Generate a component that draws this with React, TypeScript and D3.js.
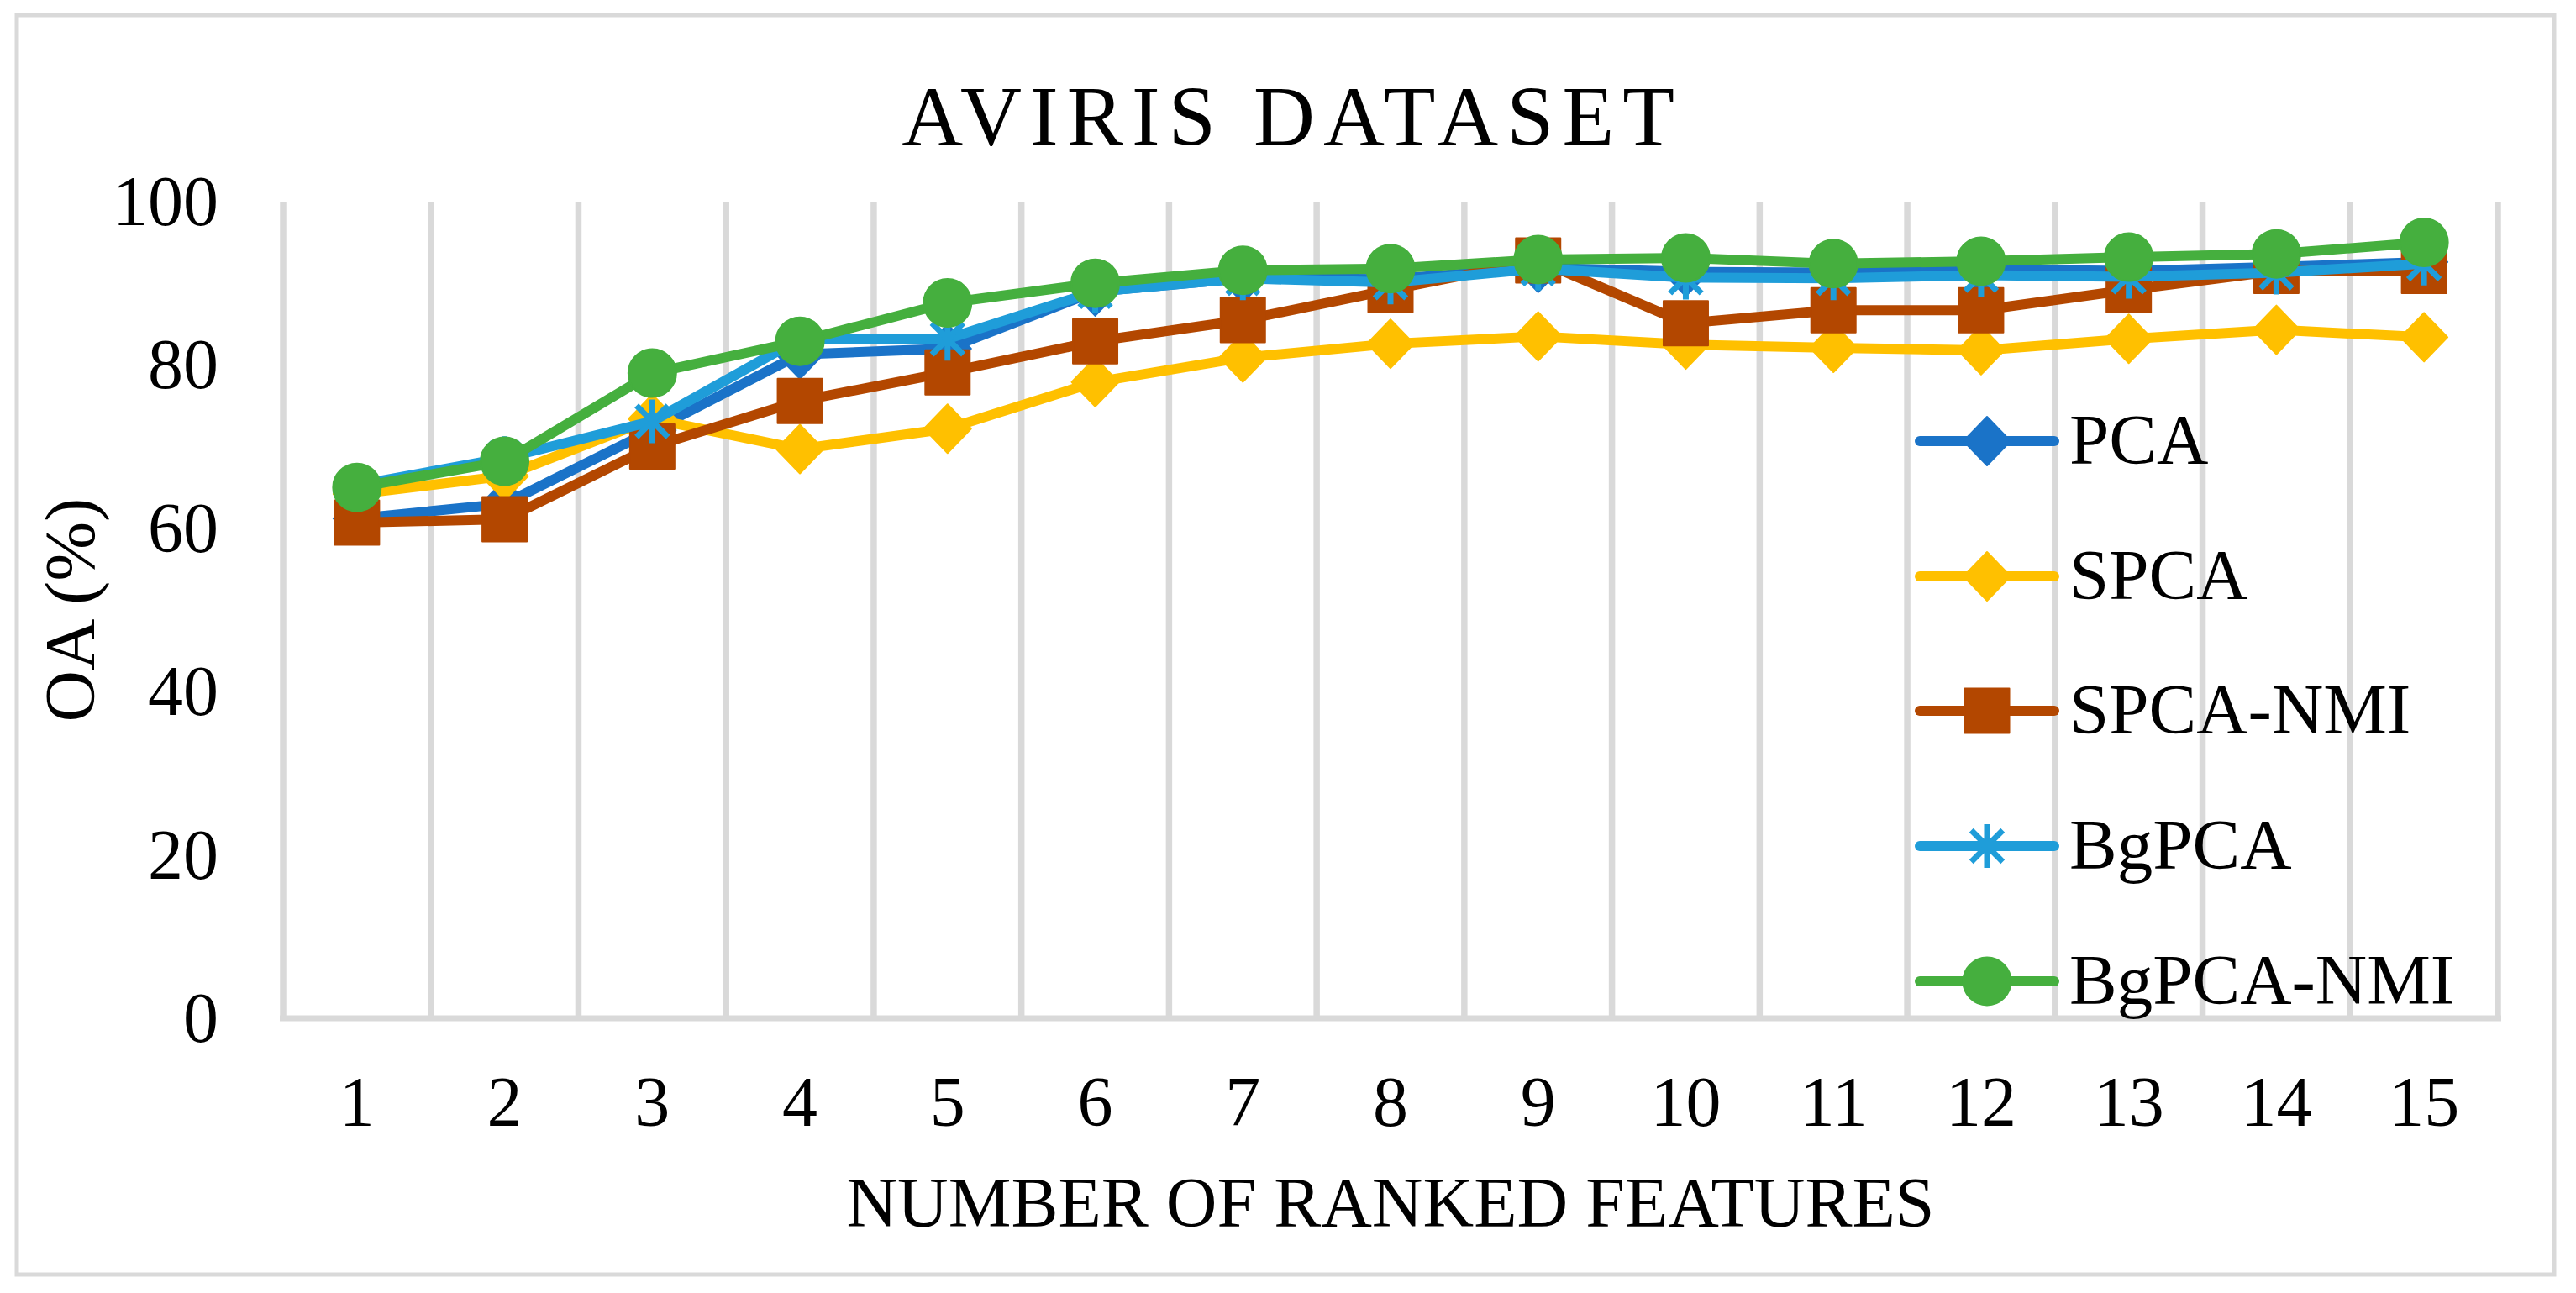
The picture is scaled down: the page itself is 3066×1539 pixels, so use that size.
import React, { useEffect } from "react";
import * as d3 from "d3";

const categories = ["1","2","3","4","5","6","7","8","9","10","11","12","13","14","15"];
const pca = [61.2, 63.0, 72.0, 81.3, 82.0, 89.0, 90.6, 90.5, 91.9, 91.4, 91.3, 91.7, 91.5, 92.0, 92.6];
const spca = [64.2, 66.4, 73.4, 69.7, 72.2, 77.9, 80.9, 82.6, 83.5, 82.5, 82.1, 81.8, 83.2, 84.3, 83.4];
const spcaNmi = [60.7, 61.1, 70.0, 75.6, 79.1, 82.9, 85.5, 89.2, 92.8, 85.1, 86.7, 86.7, 89.2, 91.5, 91.5];
const bgpca = [65.3, 68.6, 73.1, 83.2, 83.2, 89.0, 90.6, 90.1, 91.8, 90.7, 90.6, 91.0, 90.8, 91.3, 92.4];
const bgpcaNmi = [65.0, 68.2, 79.0, 82.9, 87.6, 90.0, 91.6, 91.8, 92.9, 93.1, 92.4, 92.7, 93.2, 93.6, 95.0];
const yTicks = [0, 20, 40, 60, 80, 100];
const seriesNames = ["PCA", "SPCA", "SPCA-NMI", "BgPCA", "BgPCA-NMI"];
const seriesColors = ["#1A73C8", "#FFC000", "#B34700", "#1F9DD9", "#45AF3E"];
const seriesMarkers = ["diamond", "diamond", "square", "star", "circle"];
const seriesValues = [pca, spca, spcaNmi, bgpca, bgpcaNmi];

const W = 3066, H = 1539;
const plotL = 337, plotR = 2973, plotT = 240, plotB = 1212;
const FONT = "'Liberation Serif', 'Times New Roman', serif";

function markerPath(kind: string, cx: number, cy: number): string {
  if (kind === "diamond") {
    const w = 28, h = 29;
    return `M${cx},${cy - h}L${cx + w},${cy}L${cx},${cy + h}L${cx - w},${cy}Z`;
  }
  if (kind === "square") {
    const s = 26.5;
    return `M${cx - s},${cy - s}H${cx + s}V${cy + s}H${cx - s}Z`;
  }
  if (kind === "circle") {
    const r = 28.5;
    return `M${cx - r},${cy}A${r},${r} 0 1 0 ${cx + r},${cy}A${r},${r} 0 1 0 ${cx - r},${cy}Z`;
  }
  const a = 26;
  const d = a * 0.72;
  return `M${cx},${cy - a}V${cy + a}M${cx - d},${cy - d}L${cx + d},${cy + d}M${cx + d},${cy - d}L${cx - d},${cy + d}`;
}

function Marker({ kind, color, cx, cy }: { kind: string; color: string; cx: number; cy: number }) {
  const p = markerPath(kind, cx, cy);
  if (kind === "star") {
    return <path d={p} fill="none" stroke={color} strokeWidth={7} />;
  }
  return <path d={p} fill={color} stroke={color} strokeWidth={2} strokeLinejoin="round" />;
}

export default function App() {
  useEffect(() => {
    document.body.style.margin = "0";
  }, []);

  const x = d3.scaleBand<string>().domain(categories).range([plotL, plotR]).padding(0);
  const y = d3.scaleLinear().domain([0, 100]).range([plotB, plotT]);
  const cx = (c: string) => (x(c) as number) + x.bandwidth() / 2;

  const line = d3
    .line<number>()
    .x((_, i) => cx(categories[i]))
    .y((v) => y(v));

  const gridXs = categories.map((c) => x(c) as number).concat([plotR]);

  const legendX0 = 2285, legendX1 = 2445, legendTextX = 2463;
  const legendYs = [525, 686, 846, 1007, 1168];

  return (
    <svg width={W} height={H} style={{ position: "absolute", left: 0, top: 0, display: "block", background: "#fff" }}>
      <rect x={0} y={0} width={W} height={H} fill="#fff" />
      <rect x={20} y={18} width={3020} height={1499} fill="none" stroke="#D9D9D9" strokeWidth={5} />

      <text x={1538} y={173} textAnchor="middle" fontFamily={FONT} fontSize={101} letterSpacing={10} fill="#000">
        AVIRIS DATASET
      </text>

      {gridXs.map((gx, i) => (
        <line key={"g" + i} x1={gx} x2={gx} y1={plotT} y2={plotB} stroke="#D9D9D9" strokeWidth={7.5} />
      ))}
      <line x1={plotL - 4} x2={plotR + 4} y1={plotB} y2={plotB} stroke="#D9D9D9" strokeWidth={7} />

      {yTicks.map((t) => (
        <text key={"y" + t} x={260} y={y(t) + 28} textAnchor="end" fontFamily={FONT} fontSize={84} fill="#000">
          {t}
        </text>
      ))}
      {categories.map((c) => (
        <text key={"x" + c} x={cx(c)} y={1340} textAnchor="middle" fontFamily={FONT} fontSize={84} fill="#000">
          {c}
        </text>
      ))}

      <text transform={`translate(112, ${(plotT + plotB) / 2}) rotate(-90)`} textAnchor="middle" fontFamily={FONT} fontSize={85} fill="#000">
        OA (%)
      </text>
      <text x={(plotL + plotR) / 2} y={1460} textAnchor="middle" fontFamily={FONT} fontSize={84} fill="#000">
        NUMBER OF RANKED FEATURES
      </text>

      {seriesValues.map((vals, si) => (
        <g key={"s" + si}>
          <path d={line(vals) || ""} fill="none" stroke={seriesColors[si]} strokeWidth={12} strokeLinejoin="round" strokeLinecap="round" />
          {vals.map((v, i) => (
            <Marker key={i} kind={seriesMarkers[si]} color={seriesColors[si]} cx={cx(categories[i])} cy={y(v)} />
          ))}
        </g>
      ))}

      {seriesNames.map((name, si) => (
        <g key={"l" + si}>
          <line x1={legendX0} x2={legendX1} y1={legendYs[si]} y2={legendYs[si]} stroke={seriesColors[si]} strokeWidth={12} strokeLinecap="round" />
          <Marker kind={seriesMarkers[si]} color={seriesColors[si]} cx={(legendX0 + legendX1) / 2} cy={legendYs[si]} />
          <text x={legendTextX} y={legendYs[si] + 27} fontFamily={FONT} fontSize={85} fill="#000">
            {name}
          </text>
        </g>
      ))}
    </svg>
  );
}
